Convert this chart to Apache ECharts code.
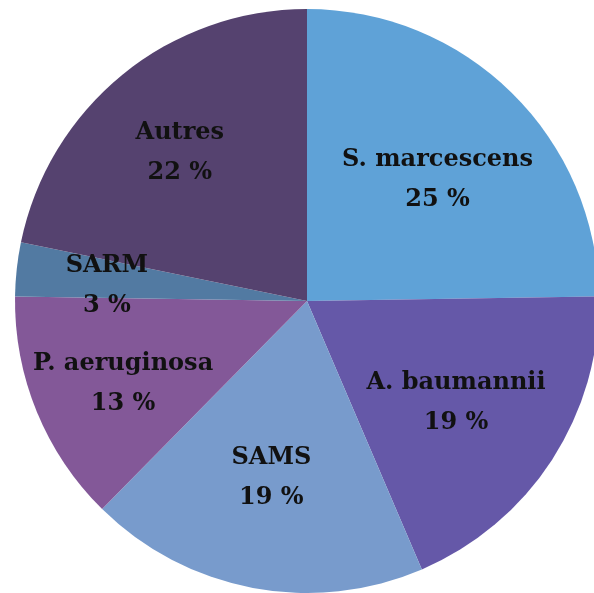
<!DOCTYPE html>
<html>
<head>
<meta charset="utf-8">
<script src="https://cdn.jsdelivr.net/npm/echarts@6/dist/echarts.min.js"></script>
<style>
    html, body {margin: 0; padding: 0; background: #fff;}
    #main {width: 594px; height: 593px;}
</style>
</head>
<body>
<div id="main"></div>
<script>
// slices clockwise from 12 o'clock
const names = ['S. marcescens', 'A. baumannii', 'SAMS', 'P. aeruginosa', 'SARM', 'Autres'];
const percents = [25, 19, 19, 13, 3, 22];
const colors = ['#5fa2d7', '#6558a8', '#789bcc', '#835898', '#527aa2', '#55426f'];
// nudge of each label from the default inside spot
const labelOffsets = [[26, -15], [24, 21], [-8, 30], [-46, 26], [-52, 1], [-33, -33]];

const chart = echarts.init(document.getElementById('main'));

const pieData = names.map((n, i) => ({
    name: n,
    value: percents[i],
    itemStyle: {color: colors[i]},
    label: {offset: labelOffsets[i]}
}));

chart.setOption({
    animation: false,
    series: [{
        type: 'pie',
        center: [307, 301],
        radius: 292,
        startAngle: 90,
        clockwise: true,
        avoidLabelOverlap: false,
        silent: true,
        itemStyle: {borderWidth: 0},
        label: {
            show: true,
            position: 'inside',
            formatter: '{b}\n{c} %',
            color: '#111',
            fontFamily: 'DejaVu Serif',
            fontWeight: 'bold',
            fontSize: 24,
            lineHeight: 40,
            align: 'center'
        },
        labelLine: {show: false},
        data: pieData
    }]
});
</script>
</body>
</html>
